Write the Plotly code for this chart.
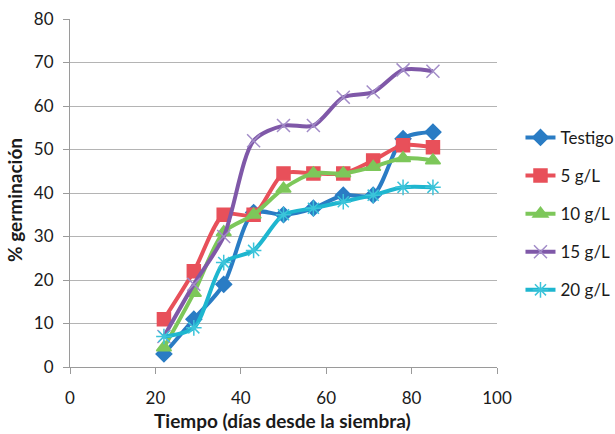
import plotly.graph_objects as go

# Days after sowing and germination percentages per treatment
dias = [22, 29, 36, 43, 50, 57, 64, 71, 78, 85]
testigo = [3, 11, 19, 35.5, 35, 36.5, 39.5, 39.5, 52.5, 54]
g5 = [11, 22, 35, 35, 44.5, 44.5, 44.5, 47.5, 51, 50.5]
g10 = [4.5, 17, 31, 35, 41, 44.5, 44.5, 46, 48, 47.5]
g15 = [7, 19, 30, 52, 55.5, 55.5, 62, 63.2, 68.3, 68]
g20 = [7, 9, 24, 26.8, 35, 36.5, 38, 39.5, 41.3, 41.3]

series = [
    ("Testigo", testigo, "#2A7CC4", "diamond", 12, "#2A7CC4"),
    ("5 g/L", g5, "#E8505A", "square", 13, "#E8505A"),
    ("10 g/L", g10, "#7DC75A", "triangle-up", 13, "#7DC75A"),
    ("15 g/L", g15, "#7F58A8", "x-thin", 13, "#A28CC8"),
    ("20 g/L", g20, "#1EB6CF", "asterisk", 13, "#3CC4DA"),
]

fig = go.Figure()
for name, vals, color, sym, size, mcol in series:
    fig.add_trace(go.Scatter(
        x=dias, y=vals, name=name, legendgroup=name, mode="lines+markers",
        line=dict(color=color, width=4, shape="spline", smoothing=0.8),
        marker=dict(symbol=sym, size=size, color=mcol,
                    line=dict(color=mcol, width=1.5)),
    ))

font = "Lato, 'Open Sans', sans-serif"
fig.update_layout(
    width=615, height=434,
    margin=dict(l=70, r=118, t=19, b=67, autoexpand=False),
    paper_bgcolor="white", plot_bgcolor="white",
    font=dict(family=font, size=17, color="#1a1a1a"),
    showlegend=True,
    legend=dict(x=1.055, y=0.44, xanchor="left", yanchor="middle",
                font=dict(size=17), tracegroupgap=13, itemwidth=30,
                traceorder="grouped", bgcolor="rgba(0,0,0,0)"),
    xaxis=dict(range=[0, 100], tickvals=[0, 20, 40, 60, 80, 100],
               showgrid=False, zeroline=False,
               showline=True, linecolor="#9a9a9a", linewidth=1,
               ticks="outside", ticklen=6, tickcolor="#9a9a9a",
               ticklabelstandoff=10),
    yaxis=dict(range=[0, 80], tickvals=list(range(0, 81, 10)),
               showgrid=True, gridcolor="#b4b4b4", gridwidth=1,
               zeroline=False,
               showline=True, linecolor="#9a9a9a", linewidth=1,
               ticks="outside", ticklen=6, tickcolor="#9a9a9a",
               ticklabelstandoff=6),
    annotations=[
        dict(text="<b>Tiempo (días desde la siembra)</b>",
             xref="paper", yref="paper", x=0.497, y=0,
             xanchor="center", yanchor="middle", yshift=-53,
             showarrow=False, font=dict(size=19)),
        dict(text="<b>% germinación</b>", textangle=-90,
             xref="paper", yref="paper", x=0, y=0.48,
             xanchor="center", yanchor="middle", xshift=-55,
             showarrow=False, font=dict(size=19)),
    ],
)

fig.write_html("out.html")
